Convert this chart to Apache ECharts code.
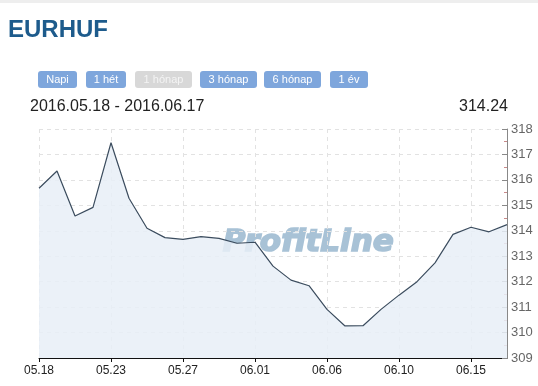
<!DOCTYPE html>
<html><head><meta charset="utf-8">
<script src="https://cdn.jsdelivr.net/npm/echarts@6/dist/echarts.min.js"></script>
<style>html,body{margin:0;padding:0;background:#fff;}#c{width:538px;height:386px;}</style>
</head><body><div id="c"></div>
<script>
const dates = ['05.18','05.19','05.20','05.21','05.23','05.24','05.25','05.26','05.27','05.28','05.30','05.31','06.01','06.02','06.03','06.04','06.06','06.07','06.08','06.09','06.10','06.11','06.13','06.14','06.15','06.16','06.17'];
const rates = [315.67,316.35,314.58,314.92,317.46,315.28,314.10,313.73,313.66,313.77,313.70,313.51,313.55,312.61,312.06,311.84,310.91,310.26,310.27,310.91,311.47,312.00,312.74,313.86,314.14,313.96,314.24];
const yTicks = [309,310,311,312,313,314,315,316,317,318];
const buttons = [['Napi',38,39],['1 hét',86,40],['1 hónap',135,57],['3 hónap',200,57],['6 hónap',264,57],['1 év',330,38]];

const chart = echarts.init(document.getElementById('c'));
const F = 'Liberation Sans, Arial, sans-serif';
const graphics = [
  {type:'rect', shape:{x:0,y:0,width:538,height:3}, style:{fill:'#eeeeee'}},
  {type:'text', left:8, top:18, style:{text:'EURHUF', font:'bold 24px '+F, fill:'#1d5b8c'}},
  {type:'text', left:30, top:99, style:{text:'2016.05.18 - 2016.06.17', font:'16px '+F, fill:'#222'}},
  {type:'text', right:30, top:99, style:{text:'314.24', font:'16px '+F, fill:'#222', align:'right'}},
  {type:'text', left:222, top:227, z:0, style:{text:'ProfitLine', font:'italic bold 31px DejaVu Sans, sans-serif', fill:'#a8c2d6', stroke:'#a8c2d6', lineWidth:1.6}}
];
buttons.forEach((b,i)=>{
  const dis = i===2;
  graphics.push({type:'rect', shape:{x:b[1],y:71,width:b[2],height:17,r:3},
    style:{fill: dis ? '#d8d8d8' : '#7ea6dc'}});
  graphics.push({type:'text', style:{text:b[0], x:b[1]+b[2]/2, y:79.5, align:'center', verticalAlign:'middle',
    font:'11px '+F, fill: dis ? '#f4f4f4' : '#ffffff'}});
});

chart.setOption({
  animation:false,
  graphic: graphics,
  grid:{left:39, right:31, top:129, bottom:28},
  xAxis:{type:'category', data:dates, boundaryGap:false,
    axisLine:{lineStyle:{color:'#111', width:1}},
    axisTick:{interval:3, length:4, inside:false, lineStyle:{color:'#111'}},
    axisLabel:{interval:3, color:'#222', fontSize:12, fontFamily:F, margin:7},
    splitLine:{show:true, interval:3, lineStyle:{color:'#e2e2e2', type:[4,4]}}
  },
  yAxis:{type:'value', position:'right', min:yTicks[0], max:yTicks[yTicks.length-1], interval:1,
    axisLine:{show:true, lineStyle:{color:'#888'}},
    axisTick:{show:true, inside:true, length:5, lineStyle:{color:'#888'}},
    minorTick:{show:true, splitNumber:2, length:3, lineStyle:{color:'#c98a8a'}},
    axisLabel:{color:'#666', fontSize:13, fontFamily:F, margin:4},
    splitLine:{show:true, lineStyle:{color:'#e2e2e2', type:[4,4]}}
  },
  series:[{type:'line', data:rates, symbol:'none', z:3,
    lineStyle:{color:'#3b4c5e', width:1.2},
    areaStyle:{color:'#e8eff7', opacity:0.85, origin:'start'}
  }]
});
</script></body></html>
